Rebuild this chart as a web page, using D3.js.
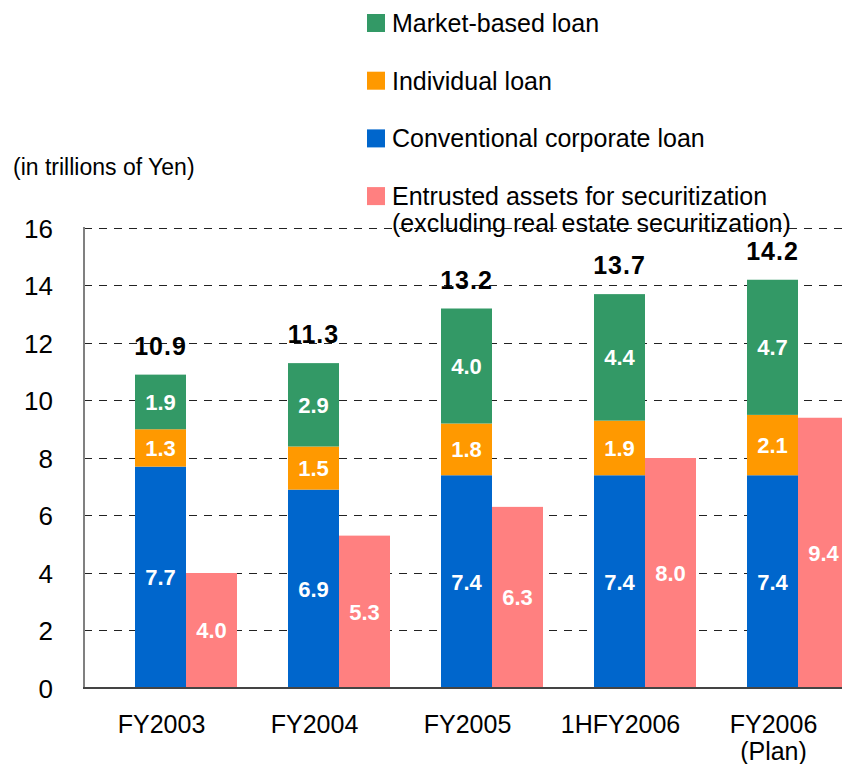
<!DOCTYPE html>
<html>
<head>
<meta charset="utf-8">
<script src="https://cdn.jsdelivr.net/npm/d3@7"></script>
<style>
  html, body { margin: 0; padding: 0; background: #fff; }
  svg { display: block; font-family: "Liberation Sans", Arial, sans-serif; }
</style>
</head>
<body>
<svg id="chart" width="842" height="764"></svg>
<script>
// ---- data ----
const categories = ["FY2003", "FY2004", "FY2005", "1HFY2006", "FY2006\n(Plan)"];
const conventionalCorporateLoan = [7.7, 6.9, 7.4, 7.4, 7.4];
const individualLoan = [1.3, 1.5, 1.8, 1.9, 2.1];
const marketBasedLoan = [1.9, 2.9, 4.0, 4.4, 4.7];
const entrustedAssets = [4.0, 5.3, 6.3, 8.0, 9.4];
const totals = [10.9, 11.3, 13.2, 13.7, 14.2];
const yTicks = [0, 2, 4, 6, 8, 10, 12, 14, 16];
const legendLabels = [
  "Market-based loan",
  "Individual loan",
  "Conventional corporate loan",
  "Entrusted assets for securitization\n(excluding real estate securitization)"
];
const unitLabel = "(in trillions of Yen)";

// ---- styles ----
const colors = {
  market: "#339966",
  individual: "#FF9900",
  conventional: "#0066CC",
  entrusted: "#FF8080"
};

const svg = d3.select("#chart");
const W = 842, H = 764;
const plotLeft = 84, plotTop = 228, plotBottom = 688;

const y = d3.scaleLinear().domain([0, 16]).range([plotBottom, plotTop]);
const x0 = d3.scaleBand().domain(categories).range([plotLeft, 900])
  .paddingInner(1 / 3).paddingOuter(1 / 3);
const x1 = d3.scaleBand().domain(["stack", "entrusted"]).range([0, x0.bandwidth()]);

// gridlines
svg.append("g").selectAll("line").data(yTicks.filter(d => d > 0)).join("line")
  .attr("x1", plotLeft).attr("x2", W)
  .attr("y1", d => y(d)).attr("y2", d => y(d))
  .attr("stroke", "#222").attr("stroke-width", 1)
  .attr("stroke-dasharray", "8,7")
  .attr("shape-rendering", "crispEdges");

// y axis labels via d3 axis
const yAxis = d3.axisLeft(y).tickValues(yTicks).tickSize(0).tickPadding(0);
const yg = svg.append("g").attr("transform", `translate(53,0)`).call(yAxis);
yg.select(".domain").remove();
yg.selectAll("text").attr("font-size", 26).attr("fill", "#000")
  .attr("font-family", "'Liberation Sans', Arial, sans-serif").attr("dy", "0.36em");

// stacked data
const seriesKeys = ["conventional", "individual", "market"];
const rows = categories.map((c, i) => ({
  cat: c,
  conventional: conventionalCorporateLoan[i],
  individual: individualLoan[i],
  market: marketBasedLoan[i]
}));
const stacked = d3.stack().keys(seriesKeys)(rows);

const barsG = svg.append("g");
stacked.forEach(layer => {
  const key = layer.key;
  barsG.append("g").selectAll("rect").data(layer).join("rect")
    .attr("x", d => x0(d.data.cat) + x1("stack"))
    .attr("width", x1.bandwidth())
    .attr("y", d => y(d[1]))
    .attr("height", d => y(d[0]) - y(d[1]))
    .attr("fill", colors[key]);
  barsG.append("g").selectAll("text").data(layer).join("text")
    .attr("x", d => x0(d.data.cat) + x1("stack") + x1.bandwidth() / 2)
    .attr("y", d => (y(d[0]) + y(d[1])) / 2)
    .attr("dy", "0.36em")
    .attr("text-anchor", "middle")
    .attr("font-size", 22).attr("font-weight", "bold").attr("fill", "#fff")
    .text(d => d.data[key].toFixed(1));
});

// entrusted bars
barsG.append("g").selectAll("rect").data(entrustedAssets).join("rect")
  .attr("x", (d, i) => x0(categories[i]) + x1("entrusted"))
  .attr("width", x1.bandwidth())
  .attr("y", d => y(d))
  .attr("height", d => y(0) - y(d))
  .attr("fill", colors.entrusted);
barsG.append("g").selectAll("text").data(entrustedAssets).join("text")
  .attr("x", (d, i) => x0(categories[i]) + x1("entrusted") + x1.bandwidth() / 2)
  .attr("y", d => (y(d) + y(0)) / 2)
  .attr("dy", "0.36em")
  .attr("text-anchor", "middle")
  .attr("font-size", 22).attr("font-weight", "bold").attr("fill", "#fff")
  .text(d => d.toFixed(1));

// totals
svg.append("g").selectAll("text").data(totals).join("text")
  .attr("x", (d, i) => x0(categories[i]) + x1("stack") + x1.bandwidth() / 2)
  .attr("y", d => y(d) - 20)
  .attr("text-anchor", "middle")
  .attr("font-size", 25).attr("font-weight", "bold").attr("fill", "#000")
  .attr("letter-spacing", "1px")
  .text(d => d.toFixed(1));

// axis lines
svg.append("line").attr("x1", plotLeft).attr("x2", plotLeft)
  .attr("y1", plotTop - 1).attr("y2", plotBottom)
  .attr("stroke", "#808080").attr("stroke-width", 2);
svg.append("line").attr("x1", plotLeft - 1).attr("x2", W)
  .attr("y1", plotBottom).attr("y2", plotBottom)
  .attr("stroke", "#444").attr("stroke-width", 2);

// x labels
const xg = svg.append("g");
categories.forEach(c => {
  const lines = c.split("\n");
  const cx = x0(c) + x1("stack") + x1.bandwidth() / 2 + 1;
  lines.forEach((l, k) => {
    xg.append("text")
      .attr("x", cx)
      .attr("y", 733 + k * 27)
      .attr("text-anchor", "middle")
      .attr("font-size", 25).attr("fill", "#000")
      .text(l);
  });
});

// unit label
svg.append("text").attr("x", 13).attr("y", 175)
  .attr("font-size", 23).attr("fill", "#000").text(unitLabel);

// legend
const legendColors = [colors.market, colors.individual, colors.conventional, colors.entrusted];
const lg = svg.append("g").attr("transform", "translate(367,14)");
legendLabels.forEach((lab, i) => {
  const g = lg.append("g").attr("transform", `translate(0,${i * 57.7})`);
  g.append("rect").attr("width", 18).attr("height", 18).attr("fill", legendColors[i]);
  lab.split("\n").forEach((l, k) => {
    g.append("text").attr("x", 25).attr("y", 18 + k * 27)
      .attr("font-size", 25).attr("fill", "#000").text(l);
  });
});
</script>
</body>
</html>
